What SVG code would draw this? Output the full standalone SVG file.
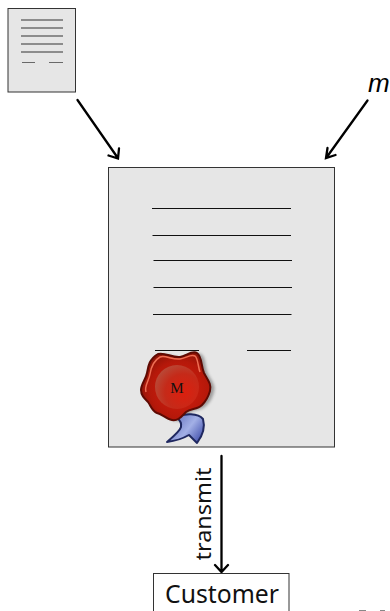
<svg xmlns="http://www.w3.org/2000/svg" width="390" height="611" viewBox="0 0 390 611">
<defs>
<radialGradient id="wax" cx="0.55" cy="0.55" r="0.6"><stop offset="0" stop-color="#d81e0e"/><stop offset="0.7" stop-color="#b5180a"/><stop offset="1" stop-color="#8a1307"/></radialGradient>
<radialGradient id="disc" cx="0.65" cy="0.62" r="0.7"><stop offset="0" stop-color="#dc1f0e"/><stop offset="0.6" stop-color="#c52a19"/><stop offset="1" stop-color="#b84a38"/></radialGradient>
<linearGradient id="rib" x1="0" y1="0" x2="1" y2="0.6"><stop offset="0" stop-color="#4f5cb0"/><stop offset="0.65" stop-color="#a3b0e6"/><stop offset="1" stop-color="#5563b8"/></linearGradient>
<filter id="blur" x="-20%" y="-20%" width="140%" height="140%"><feGaussianBlur stdDeviation="1.5"/></filter>
</defs>
<style>
.page{fill:#e6e6e6;stroke:#333;stroke-width:1}
.ln{stroke:#111;stroke-width:1;fill:none}
.sm{stroke:#333;stroke-width:1;fill:none}
.arrow{stroke:#000;stroke-width:2.300;fill:none;stroke-linecap:round}
.t{font-family:"Noto Sans",sans-serif;fill:#111}
</style>
<g id="connectors">
<path class="arrow" d="M77.500 100L117.500 157.500M108.500 155.500L118 158.500L119 148.500"/>
<path class="arrow" d="M367.500 100.500L326.500 157.500M327.500 148L326 158L335.500 155"/>
<path class="arrow" d="M221.500 456V572M215 565L221.500 572L228 565"/>
</g>
<g id="small-doc">
<rect class="page" x="8" y="8.500" width="67.500" height="83.500"/>
<path class="sm" d="M21 20H63M21 28H63M21 36H63M21 44H63M21 52H63"/>
<path class="sm" stroke-opacity=".7" d="M22 62.500H35M49 62.500H63"/>
</g>
<g id="m-label"><text x="368" y="92" font-family="'Liberation Sans',sans-serif" font-style="italic" font-size="26">m</text></g>
<g id="certificate">
<rect class="page" x="108.500" y="167.500" width="226" height="279.500"/>
<path class="ln" d="M152 208.500H291M152.500 235.500H291M153.500 260.500H292M153.500 287.500H292M153 314.500H291.500M155 350.500H199M247 350.500H291"/>
</g>
<g id="seal">
<path d="M158 354C165 352 172 358 180 357C186 356 192 350 197 353C202 356 201 366 204 373C207 379 212 384 210 391C208 398 206 401 202 405C197 410 191 408 186 412C181 417 178 421 172 420C166 419 162 414 157 413C152 411 151 406 148 402C144 398 141 395 141 390C141 384 146 379 147 373C148 367 149 359 158 354Z" fill="#444" opacity=".45" filter="url(#blur)" transform="translate(4 1)"/>
<path d="M176 417C185 413 198 413 203 419C205 426 203 435 197 443L189 435C182 439 175 441 167 442C174 436 180 431 181 427C182 423 180 420 176 417Z" fill="url(#rib)" stroke="#1f2860" stroke-width="2" stroke-linejoin="round"/>
<path d="M158 354C165 352 172 358 180 357C186 356 192 350 197 353C202 356 201 366 204 373C207 379 212 384 210 391C208 398 206 401 202 405C197 410 191 408 186 412C181 417 178 421 172 420C166 419 162 414 157 413C152 411 151 406 148 402C144 398 141 395 141 390C141 384 146 379 147 373C148 367 149 359 158 354Z" fill="url(#wax)" stroke="#5e0a03" stroke-width="2"/>
<path d="M146 392C144 386 149 381 150 374C151 368 153 361 160 357C166 355 172 360 180 359C186 358 191 354 195 356C198 358 198 367 200 372" fill="none" stroke="#ee6e54" stroke-width="1.500"/>
<circle cx="177" cy="387" r="22" fill="url(#disc)"/>
<text x="177" y="393" text-anchor="middle" font-family="'Liberation Serif',serif" font-size="15" fill="#111">M</text>
</g>
<g id="transmit-label"><text class="t" transform="translate(210.500 560.500) rotate(-90)" font-size="21" textLength="93" lengthAdjust="spacingAndGlyphs">transmit</text></g>
<g id="customer">
<rect x="153.500" y="573.500" width="135.500" height="40" fill="#fff" stroke="#333"/>
<text class="t" x="165" y="603" font-size="26" textLength="114" lengthAdjust="spacingAndGlyphs">Customer</text>
</g>
<g id="edge-marks"><path d="M359 610.500H366M380 610.500H385" stroke="#888" stroke-width="1"/></g>
</svg>
